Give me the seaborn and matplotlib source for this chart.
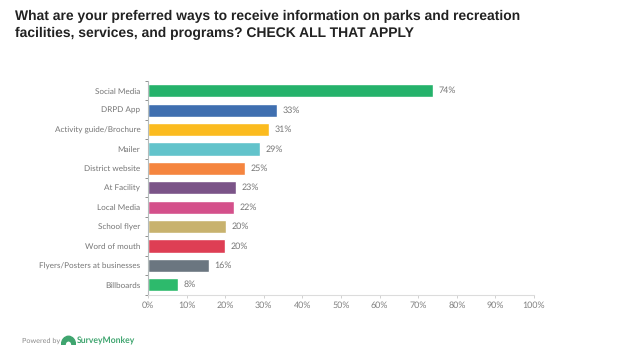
import matplotlib
matplotlib.use("Agg")
import matplotlib.pyplot as plt
import seaborn as sns
import pandas as pd
from matplotlib.patches import Wedge

# === Chart data ===
options = ["Social Media", "DRPD App", "Activity guide/Brochure", "Mailer", "District website",
           "At Facility", "Local Media", "School flyer", "Word of mouth",
           "Flyers/Posters at businesses", "Billboards"]
shares = [73.8, 33.4, 31.3, 29.1, 25.1, 22.8, 22.4, 20.3, 20.0, 15.8, 7.7]
value_labels = ["74%", "33%", "31%", "29%", "25%", "23%", "22%", "20%", "20%", "16%", "8%"]
bar_colors = ["#25B26B", "#3F6FB0", "#FBBB1F", "#62C3CB", "#F5853F", "#7B5488",
              "#D4508B", "#C8B26E", "#DE3E54", "#6B7680", "#2DBA6C"]
x_ticks = [0, 10, 20, 30, 40, 50, 60, 70, 80, 90, 100]

df = pd.DataFrame({"option": options, "share": shares})

# === Plot ===
sns.set_theme(style="white")
plt.rcParams['font.family'] = ['Lato', 'DejaVu Sans']
plt.rcParams['text.hinting'] = 'no_hinting'

W, H = 626, 351
fig = plt.figure(figsize=(W / 100, H / 100), dpi=100)
ax = fig.add_axes([148 / W, 1 - 294.5 / H, (534 - 148) / W, (294.5 - 81) / H])

sns.barplot(data=df, x="share", y="option", hue="option", palette=bar_colors,
            legend=False, width=0.68, saturation=1, ax=ax)

ax.set_xlim(0, 100)
ax.set_ylim(len(options) - 0.5, -0.5)
ax.set_xlabel("")
ax.set_ylabel("")
ax.set_xticks(x_ticks)
ax.set_xticklabels([f"{t}%" for t in x_ticks], fontsize=6.4, color="#808080")
ax.tick_params(axis="x", length=2, width=0.7, color="#d0d0d0", pad=3, bottom=True)
ax.tick_params(axis="y", length=0, pad=5.5, labelsize=5.9, labelcolor="#767676")

# y axis ticks sit between the categories
ax.set_yticks([i - 0.5 for i in range(len(options) + 1)], minor=True)
ax.tick_params(axis="y", which="minor", length=2, width=0.7, color="#909090", left=True)

for spine in ["top", "right"]:
    ax.spines[spine].set_visible(False)
ax.spines["left"].set_color("#b5bcbc")
ax.spines["left"].set_linewidth(0.8)
ax.spines["bottom"].set_color("#dcdcdc")
ax.spines["bottom"].set_linewidth(0.8)

for i, (val, lab) in enumerate(zip(shares, value_labels)):
    ax.annotate(lab, (val, i), xytext=(4, 0), textcoords="offset points",
                va="center", ha="left", fontsize=6.4, color="#767676")

# === Title ===
fig.text(15 / W, 1 - 16.5 / H, "What are your preferred ways to receive information on parks and recreation",
         family="Liberation Sans", fontsize=10.0, fontweight="bold", color="#222222", va="center")
fig.text(15 / W, 1 - 33 / H, "facilities, services, and programs? CHECK ALL THAT APPLY",
         family="Liberation Sans", fontsize=10.0, fontweight="bold", color="#222222", va="center")

# === Footer ===
fig.text(22 / W, 1 - 340.5 / H, "Powered by", fontsize=5.2, color="#8a8a8a", va="center")
fig.text(77 / W, 1 - 340.5 / H, "SurveyMonkey", fontsize=6.2, fontweight="bold", color="#3fa56f", va="center")
logo_ax = fig.add_axes([61 / W, 1 - 345 / H, 15 / W, 10 / H])
logo_ax.set_xlim(-1.1, 1.1)
logo_ax.set_ylim(0, 1.2)
logo_ax.axis("off")
logo_ax.add_patch(Wedge((0, 0), 1.05, 0, 180, width=0.55, color="#3fa56f"))

fig.savefig("out.png", dpi=100, facecolor="white")
